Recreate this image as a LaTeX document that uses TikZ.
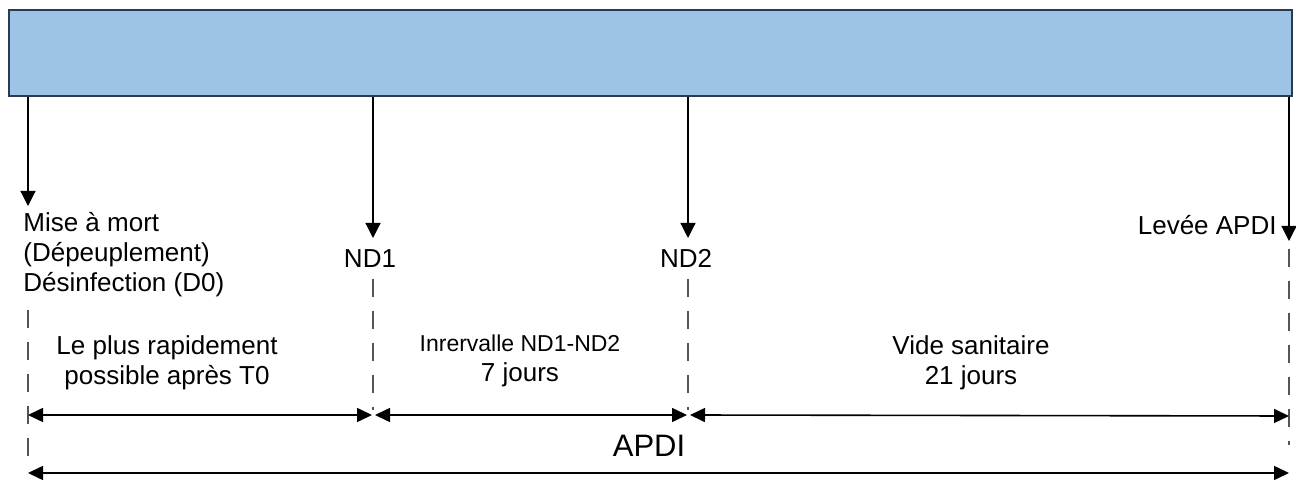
\documentclass[tikz,border=0pt]{standalone}
\usepackage{fontspec}
\setmainfont{Liberation Sans}
\usetikzlibrary{arrows.meta}

\definecolor{barfill}{HTML}{9DC3E6}
\definecolor{barline}{HTML}{2B3A4E}
\definecolor{guidegray}{HTML}{555555}

\tikzset{
  bar/.style={draw=barline, line width=1pt, fill=barfill, inner sep=0pt,
    minimum width=641.5pt, minimum height=43pt},
  event/.style={-{Triangle[length=7.5pt,width=7.5pt]}, line width=0.6pt},
  span/.style={{Triangle[length=7.5pt,width=7pt]}-{Triangle[length=7.5pt,width=7pt]},
    line width=0.8pt},
  guide/.style={draw=guidegray, line width=0.7pt, dash pattern=on 9pt off 7pt},
  lbl/.style={font=\fontsize{13}{15}\selectfont, inner sep=0pt},
}

\begin{document}
\begin{tikzpicture}[x=0.5pt,y=-0.5pt]
  \useasboundingbox (0,0) rectangle (1296,480);

  \node[bar, anchor=north west] (bar) at (8,9) {};

  % arrow ends below the bar
  \coordinate (tip0) at (28,206);
  \coordinate (tip1) at (373,238);
  \coordinate (tip2) at (688,238);
  \coordinate (tip3) at (1289,241);

  \draw[event] (bar.south -| tip0) -- (tip0);
  \draw[event] (bar.south -| tip1) -- (tip1);
  \draw[event] (bar.south -| tip2) -- (tip2);
  \draw[event] (bar.south -| tip3) -- (tip3);

  \node[lbl, align=left, anchor=north west] (kill) at (23,212)
    {Mise à mort\\(Dépeuplement)\\Désinfection (D0)};
  \node[lbl, anchor=base] (nd1) at (370,268) {ND1};
  \node[lbl, anchor=base] (nd2) at (686,268) {ND2};
  \node[lbl, anchor=base east] (lift) at (1277,235) {Levée APDI};

  % dashed guides
  \draw[guide] (28,310) -- (28,457);
  \draw[guide] (373,279) -- (373,410);
  \draw[guide] (688,279) -- (688,410);
  \draw[guide] (1289,249) -- (1289,445);

  \node[lbl, align=center, anchor=north] (asap) at (167,335)
    {Le plus rapidement\\possible après T0};
  \node[lbl, font=\fontsize{11.5}{14}\selectfont, anchor=base] (interval) at (520,352)
    {Inrervalle ND1-ND2};
  \node[lbl, anchor=base] (week) at (520,382) {7 jours};
  \node[lbl, align=center, anchor=north] (fallow) at (971,335)
    {Vide sanitaire\\21 jours};

  % durations
  \coordinate (m0) at (28,415);
  \coordinate (m1l) at (372,415);
  \coordinate (m1r) at (375,415);
  \coordinate (m2l) at (687,415);
  \coordinate (m2r) at (690,415);
  \coordinate (m3) at (1289,416);
  \draw[span] (m0) -- (m1l);
  \draw[span] (m1r) -- (m2l);
  \draw[span] (m2r) -- (m3);

  \node[lbl, font=\fontsize{15.5}{18}\selectfont, anchor=base] (apdi) at (649,457) {APDI};

  \coordinate (b0) at (28,473);
  \coordinate (b1) at (1289,473);
  \draw[span] (b0) -- (b1);
\end{tikzpicture}
\end{document}
